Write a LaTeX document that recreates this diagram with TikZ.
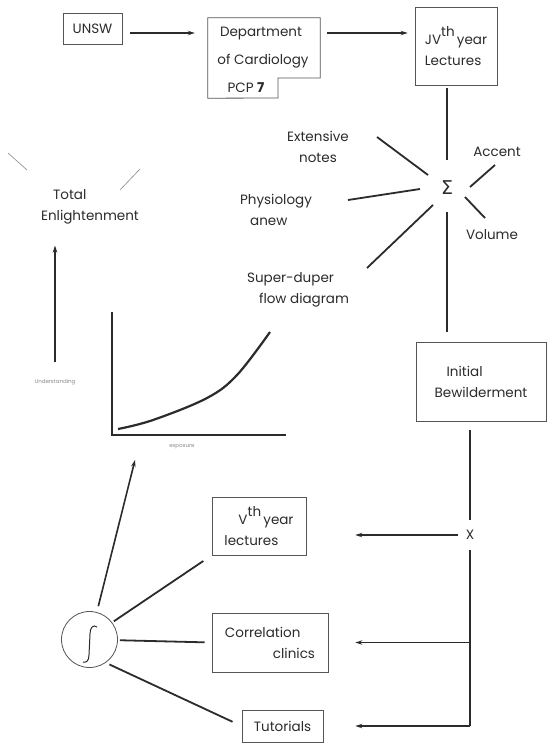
\documentclass[tikz,border=0pt]{standalone}
\usepackage{fontspec}
\setmainfont{Poppins}
\newfontfamily\symfont{DejaVu Sans}
\usetikzlibrary{arrows.meta}
\definecolor{ink}{HTML}{2B2B2B}
\definecolor{boxc}{HTML}{555555}
\definecolor{faint}{HTML}{8A8A8A}
\begin{document}
\begin{tikzpicture}[x=1pt,y=-1pt,
  every node/.style={font=\fontsize{13.5}{21}\selectfont, text=ink},
  box/.style={draw=boxc, line width=0.8pt, inner sep=0pt, align=left},
  lbl/.style={inner sep=0pt, align=left},
  heavy/.style={draw=ink, line width=1.8pt},
  thin/.style={draw=faint, line width=0.6pt},
  arr/.style={draw=ink, line width=1.6pt, -{Stealth[length=7pt,width=4.5pt]}},
  ]
\useasboundingbox[fill=white] (0,0) rectangle (550,744);

% ---------- top row ----------
\node[box, minimum width=59pt, minimum height=31pt] (unsw) at (92.5,28.5) {UNSW};
\node[minimum width=112pt, minimum height=80pt, inner sep=0pt] (dept) at (264,58) {};
\coordinate (dtab1) at (278,78);
\coordinate (dtab2) at (278,98);
\draw[boxc, line width=0.8pt] (dept.north west) -- (dept.north east) -- (dept.east |- dtab1)
  -- (dtab1) -- (dtab2) -- (dept.south west) -- cycle;
\node[lbl] (dept1) at (261,34) {Department};
\node[lbl] (dept2) at (263,61) {of Cardiology};
\node[lbl] (dept3) at (246,88) {PCP \textbf{7}};
\node[box, minimum width=82pt, minimum height=78pt] (iv) at (456,46)
  {JV\raisebox{0.55em}{th}\,year\\Lectures};

\draw[arr, shorten <=8pt, shorten >=13pt] (unsw.east |- 0,33) -- (dept.west |- 0,33);
\draw[arr, shorten <=7pt, shorten >=7pt] (dept.east |- 0,33) -- (iv.west |- 0,33);

% ---------- sigma cluster ----------
\node[inner sep=1pt, font=\symfont\fontsize{19}{19}\selectfont] (sig) at (447,188) {Σ};
\draw[heavy] ([yshift=-3pt]iv.south -| sig) -- ([yshift=20pt]sig.north);

\node[lbl, align=center] (ext) at (318,147) {Extensive\\notes};
\node[lbl] (acc) at (497,152) {Accent};
\node[lbl] (vol) at (492,235) {Volume};
\node[lbl] (phy) at (276,210) {Physiology\\\hspace{10pt}anew};
\node[lbl] (sd) at (298,290) {Super-duper\\\hspace{12pt}flow diagram};

\coordinate (e1) at (377,137); \coordinate (e2) at (428,175);
\coordinate (a1) at (470,187); \coordinate (a2) at (495,165);
\coordinate (v1) at (465,197); \coordinate (v2) at (485,218);
\coordinate (p1) at (348,200); \coordinate (p2) at (420,189);
\coordinate (s1) at (367,268); \coordinate (s2) at (433,205);
\draw[heavy] (e1) -- (e2);
\draw[heavy] (a1) -- (a2);
\draw[heavy] (v1) -- (v2);
\draw[heavy] (p1) -- (p2);
\draw[heavy] (s1) -- (s2);

% ---------- initial bewilderment ----------
\node[box, minimum width=130pt, minimum height=79pt] (ib) at (481,381.5)
  {\hspace{12pt}Initial\\Bewilderment};
\draw[heavy] ([yshift=-16pt]sig.south) -- ([yshift=10pt]ib.north -| sig);

% ---------- enlightenment / graph ----------
\node[lbl] (te) at (90,207) {\hspace{12pt}Total\\Enlightenment};
\coordinate (sl1a) at (8,153); \coordinate (sl1b) at (27,170);
\coordinate (sl2a) at (120,190); \coordinate (sl2b) at (140,169);
\draw[thin] (sl1a) -- (sl1b);
\draw[thin] (sl2a) -- (sl2b);

\coordinate (ubot) at (55,362);
\draw[arr] (ubot) -- ([yshift=-21pt]te.south -| ubot);
\node[font=\fontsize{5.5}{6}\selectfont, text=faint, inner sep=0pt] (ulab) at (55,382) {Understanding};

\coordinate (ytop) at (112,312);
\coordinate (orig) at (112,435);
\coordinate (xend) at (286,435);
\draw[ink, line width=2.2pt] (ytop) -- (orig) -- (xend);
\draw[ink, line width=2.2pt] plot[smooth, tension=0.6] coordinates {(118,429) (153,420) (207,398) (237,375) (270,332)};
\node[font=\fontsize{5.5}{6}\selectfont, text=faint, inner sep=0pt] (xlab) at (182,447) {exposure};

% ---------- lower branch ----------
\node[lbl] (xx) at (470,535) {X};
\draw[heavy] ([yshift=-9pt]ib.south -| xx) -- ([yshift=10pt]xx.north);

\node[box, minimum width=94pt, minimum height=58pt] (vbox) at (259,526)
  {\hspace{14pt}V\raisebox{0.55em}{th}\,year\\lectures};
\node[box, minimum width=116pt, minimum height=59pt] (corr) at (270,642.5)
  {Correlation\\\hspace{48pt}clinics};
\node[box, minimum width=81pt, minimum height=32pt] (tut) at (282.5,726) {Tutorials};

\draw[arr, shorten <=8pt, shorten >=49pt] (xx.west) -- (xx.west -| vbox.east);
\draw[heavy] ([yshift=-10pt]xx.south) -- (xx |- tut.east);
\draw[arr, shorten >=32pt] (xx |- tut.east) -- (tut.east);
\draw[arr, shorten >=27pt] (xx |- corr.east) -- (corr.east);

% ---------- integral circle ----------
\node[circle, draw=boxc, line width=0.8pt, minimum size=56pt, inner sep=0pt] (circ) at (89.5,639.5) {};
\draw[ink, line width=1pt] (97,627) .. controls (93,624) and (90,628) .. (90,634)
  -- (89,655) .. controls (89,661) and (86,663) .. (83,662);
\coordinate (gtip) at (135,460);
\draw[arr, shorten <=6pt] (circ.75) -- (gtip);
\draw[heavy, shorten <=2pt, shorten >=10pt] (circ.37) -- (vbox.south west);
\draw[heavy, shorten <=2pt, shorten >=7pt] (circ) -- (corr.west);
\draw[heavy, shorten <=4pt, shorten >=10pt] (circ.-55) -- (tut.west);
\end{tikzpicture}
\end{document}
